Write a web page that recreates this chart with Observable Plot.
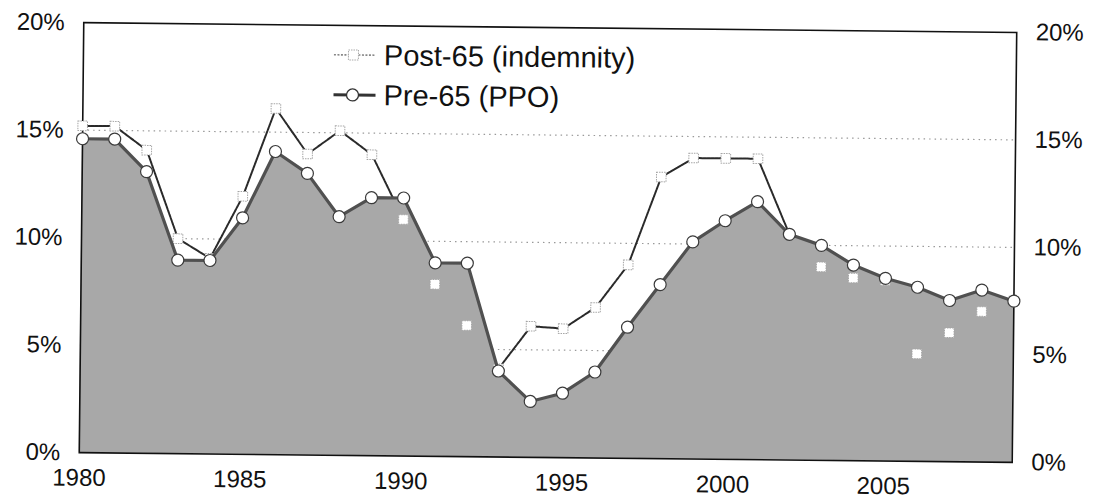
<!DOCTYPE html>
<html>
<head>
<meta charset="utf-8">
<script src="https://cdn.jsdelivr.net/npm/d3@7"></script>
<script src="https://cdn.jsdelivr.net/npm/@observablehq/plot@0.6"></script>
<style>
  html, body { margin: 0; padding: 0; background: #fff; overflow: hidden; }
  #wrap { position: relative; width: 1093px; height: 504px; font-family: "Liberation Sans", Arial, sans-serif; transform: rotate(0.6deg); transform-origin: 546px 241px; }
  #legend { position: absolute; left: 330px; top: 37px; font-size: 29px; color: #111; line-height: 40px; }
  .row { display: flex; align-items: center; height: 40px; }
  .row svg { margin-right: 6px; }
</style>
</head>
<body>
<div id="wrap">
  <div id="chart"></div>
  <div id="legend">
    <div class="row">
      <svg width="46" height="20"><line x1="2" y1="10" x2="44" y2="10" stroke="#888" stroke-width="1.6" stroke-dasharray="2,1.5"/><rect x="16.5" y="5" width="10" height="10" fill="#fff" stroke="#aaa" stroke-width="1" stroke-dasharray="1.5,1"/></svg>
      <span>Post-65 (indemnity)</span>
    </div>
    <div class="row">
      <svg width="46" height="20"><line x1="2" y1="10" x2="44" y2="10" stroke="#333" stroke-width="3"/><circle cx="21" cy="10" r="6" fill="#fff" stroke="#333" stroke-width="1.3"/></svg>
      <span>Pre-65 (PPO)</span>
    </div>
  </div>
</div>
<script>
// ---- data ----
const years = [1980,1981,1982,1983,1984,1985,1986,1987,1988,1989,1990,1991,1992,1993,1994,1995,1996,1997,1998,1999,2000,2001,2002,2003,2004,2005,2006,2007,2008,2009];
const pre65 = [14.6,14.6,13.1,9.0,9.0,11.0,14.1,13.1,11.1,12.0,12.0,9.0,9.0,4.0,2.6,3.0,4.0,6.1,8.1,10.1,11.1,12.0,10.5,10.0,9.1,8.5,8.1,7.5,8.0,7.5];
const post65 = [15.2,15.2,14.1,10.0,9.1,12.0,16.1,14.0,15.1,14.0,11.0,8.0,6.1,4.1,6.1,6.0,7.0,9.0,13.1,14.0,14.0,14.0,10.5,9.0,8.5,8.4,5.0,6.0,7.0,7.5];
const xTicks = [1980,1985,1990,1995,2000,2005];
const yTicks = [0,5,10,15,20];
const gridTicks = [5,10,15];

const data = years.map((year, i) => ({year, pre: pre65[i], post: post65[i]}));
const pct = d => d + "%";

const chart = Plot.plot({
  width: 1093,
  height: 504,
  marginLeft: 81,
  marginRight: 79,
  marginTop: 27,
  marginBottom: 47,
  style: {fontFamily: "'Liberation Sans', Arial, sans-serif", fontSize: "24px", color: "#111", background: "#fff", overflow: "visible"},
  x: {domain: [1980, 2009]},
  y: {domain: [0, 20]},
  marks: [
    Plot.ruleY(gridTicks, {stroke: "#999", strokeWidth: 1.2, strokeDasharray: "1.5,4"}),
    Plot.lineY(data, {x: "year", y: "post", stroke: "#2a2a2a", strokeWidth: 2, strokeDasharray: "3,1"}),
    Plot.areaY(data, {x: "year", y: "pre", fill: "#a8a8a8"}),
    Plot.frame({stroke: "#111", strokeWidth: 1.6}),
    Plot.dot(data, {x: "year", y: "post", symbol: "square", r: 5.4, fill: "#fff", stroke: "#a5a5a5", strokeWidth: 1, strokeDasharray: "1.5,1"}),
    Plot.lineY(data, {x: "year", y: "pre", stroke: "#505050", strokeWidth: 3.2}),
    Plot.dot(data, {x: "year", y: "pre", r: 6, fill: "#fff", stroke: "#3a3a3a", strokeWidth: 1.2}),
    Plot.axisY({anchor: "left", ticks: yTicks, tickFormat: pct, tickSize: 0, tickPadding: 19, label: null}),
    Plot.axisY({anchor: "right", ticks: yTicks, tickFormat: pct, tickSize: 0, tickPadding: 19, label: null}),
    Plot.axisX({anchor: "bottom", ticks: xTicks, tickFormat: d => String(d), tickSize: 0, tickPadding: 16, label: null})
  ]
});
document.getElementById("chart").appendChild(chart);
</script>
</body>
</html>
